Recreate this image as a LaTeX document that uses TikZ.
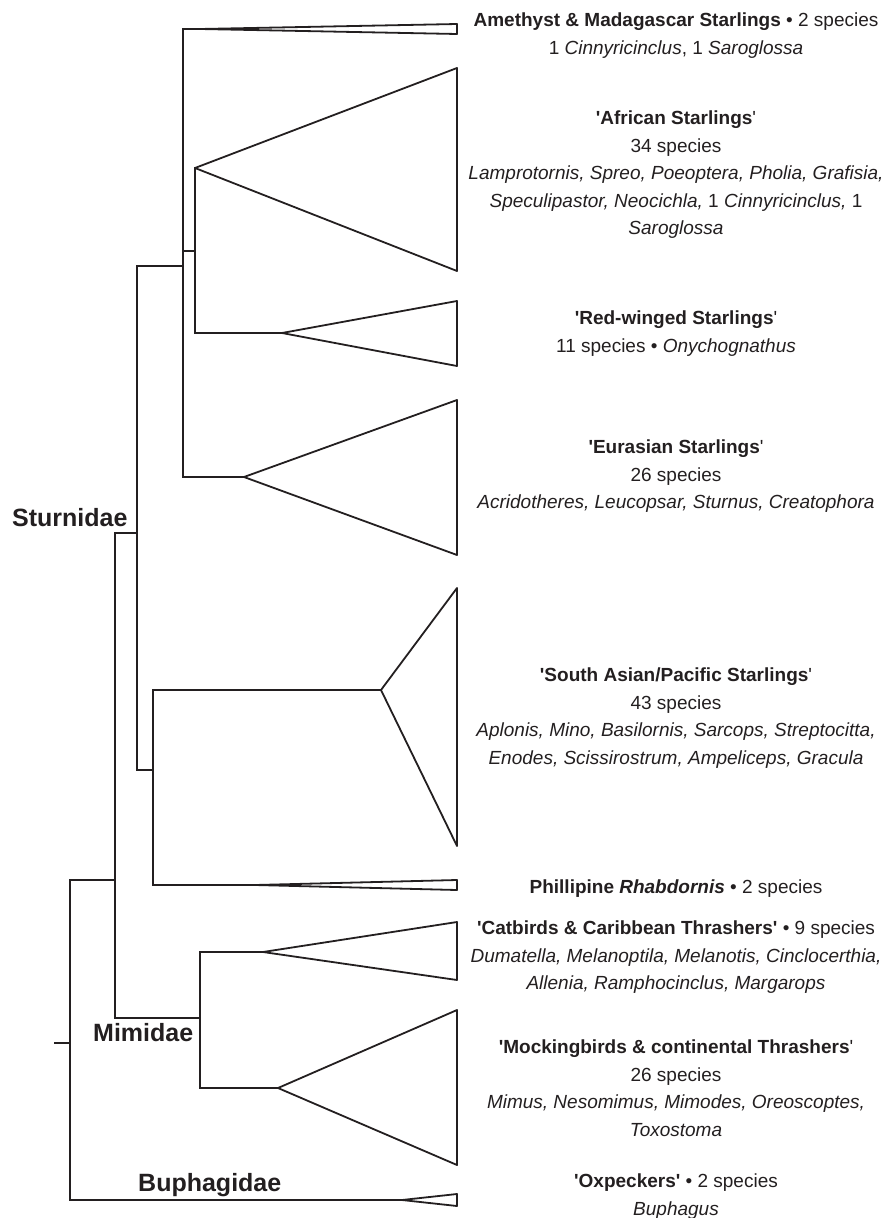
\documentclass[tikz,border=0pt]{standalone}
\usepackage{fontspec}
\setmainfont{Liberation Sans}
\newcommand{\qq}{\textquotesingle}
\definecolor{ink}{HTML}{231F20}
\begin{document}
\begin{tikzpicture}[x=1pt,y=-1pt,
  br/.style={draw=ink, line width=1.8pt, line join=miter, line cap=rect},
  tri/.style={draw=ink, line width=1.8pt, line join=round},
  txt/.style={anchor=north, inner sep=0pt, align=center, text=ink, font=\fontsize{19}{27.5}\selectfont},
  fam/.style={anchor=base west, inner sep=0pt, text=ink, font=\fontsize{25}{30}\selectfont\bfseries}]
\useasboundingbox (0,0) rectangle (885,1218);
% tree coordinates
\coordinate (rs) at (55,1043);
\coordinate (r) at (70,1043);
\coordinate (rT) at (70,880);
\coordinate (rB) at (70,1200);
\coordinate (aT) at (115,533);
\coordinate (aB) at (115,1018);
\coordinate (aM) at (115,880);
\coordinate (sT) at (137,266);
\coordinate (sB) at (137,770);
\coordinate (sM) at (137,533);
\coordinate (eT) at (183,29);
\coordinate (eB) at (183,477);
\coordinate (eM) at (183,266);
\coordinate (fT) at (195,168);
\coordinate (fB) at (195,333);
\coordinate (fM) at (195,251);
\coordinate (fMl) at (183,251);
\coordinate (pT) at (153,690);
\coordinate (pB) at (153,885);
\coordinate (pM) at (153,770);
\coordinate (mT) at (200,952);
\coordinate (mB) at (200,1088);
\coordinate (mM) at (200,1018);
% triangle apexes
\coordinate (amA) at (200,29);
\coordinate (afA) at (195,168);
\coordinate (rwA) at (282,333);
\coordinate (euA) at (244,477);
\coordinate (saA) at (381,690);
\coordinate (rhA) at (255,885);
\coordinate (caA) at (263,952);
\coordinate (moA) at (278,1088);
\coordinate (oxA) at (402,1200);
% branches
\draw[br] (rs) -- (r);
\draw[br] (rT) -- (rB);
\draw[br] (rT) -- (aM);
\draw[br] (aT) -- (aB);
\draw[br] (aT) -- (sM);
\draw[br] (sT) -- (sB);
\draw[br] (sT) -- (eM);
\draw[br] (eT) -- (eB);
\draw[br] (eT) -- (amA);
\draw[br] (fMl) -- (fM);
\draw[br] (fT) -- (fB);
\draw[br] (fB) -- (rwA);
\draw[br] (eB) -- (euA);
\draw[br] (sB) -- (pM);
\draw[br] (pT) -- (pB);
\draw[br] (pT) -- (saA);
\draw[br] (pB) -- (rhA);
\draw[br] (aB) -- (mM);
\draw[br] (mT) -- (mB);
\draw[br] (mT) -- (caA);
\draw[br] (mB) -- (moA);
\draw[br] (rB) -- (oxA);
% collapsed clades
\draw[tri] (amA) -- (457,24) -- (457,34) -- cycle;
\draw[tri] (afA) -- (457,68) -- (457,271) -- cycle;
\draw[tri] (rwA) -- (457,301) -- (457,366) -- cycle;
\draw[tri] (euA) -- (457,400) -- (457,555) -- cycle;
\draw[tri] (saA) -- (457,588) -- (457,846) -- cycle;
\draw[tri] (rhA) -- (457,880) -- (457,890) -- cycle;
\draw[tri] (caA) -- (457,922) -- (457,980) -- cycle;
\draw[tri] (moA) -- (457,1010) -- (457,1165) -- cycle;
\draw[tri] (oxA) -- (457,1194) -- (457,1206) -- cycle;
% family labels
\node[fam] (stu) at (12,526) {Sturnidae};
\node[fam] (mim) at (93,1041) {Mimidae};
\node[fam] (bup) at (138,1191) {Buphagidae};
% clade labels
\node[txt] (tam) at (676,13) {\textbf{Amethyst \& Madagascar Starlings} • 2 species\\1 \textit{Cinnyricinclus}, 1 \textit{Saroglossa}};
\node[txt] (taf) at (676,111) {\textbf{\qq African Starlings}\qq\\34 species\\\textit{Lamprotornis, Spreo, Poeoptera, Pholia, Grafisia,}\\\textit{Speculipastor, Neocichla,} 1 \textit{Cinnyricinclus,} 1\\\textit{Saroglossa}};
\node[txt] (trw) at (676,311) {\textbf{\qq Red-winged Starlings}\qq\\11 species • \textit{Onychognathus}};
\node[txt] (teu) at (676,440) {\textbf{\qq Eurasian Starlings}\qq\\26 species\\\textit{Acridotheres, Leucopsar, Sturnus, Creatophora}};
\node[txt] (tsa) at (676,668) {\textbf{\qq South Asian/Pacific Starlings}\qq\\43 species\\\textit{Aplonis, Mino, Basilornis, Sarcops, Streptocitta,}\\\textit{Enodes, Scissirostrum, Ampeliceps, Gracula}};
\node[txt] (trh) at (676,880) {\textbf{Phillipine \textit{Rhabdornis}} • 2 species};
\node[txt] (tca) at (676,921) {\textbf{\qq Catbirds \& Caribbean Thrashers\qq} • 9 species\\\textit{Dumatella, Melanoptila, Melanotis, Cinclocerthia,}\\\textit{Allenia, Ramphocinclus, Margarops}};
\node[txt] (tmo) at (676,1040) {\textbf{\qq Mockingbirds \& continental Thrashers}\qq\\26 species\\\textit{Mimus, Nesomimus, Mimodes, Oreoscoptes,}\\\textit{Toxostoma}};
\node[txt] (tox) at (676,1174) {\textbf{\qq Oxpeckers\qq} • 2 species\\\textit{Buphagus}};
\end{tikzpicture}
\end{document}
